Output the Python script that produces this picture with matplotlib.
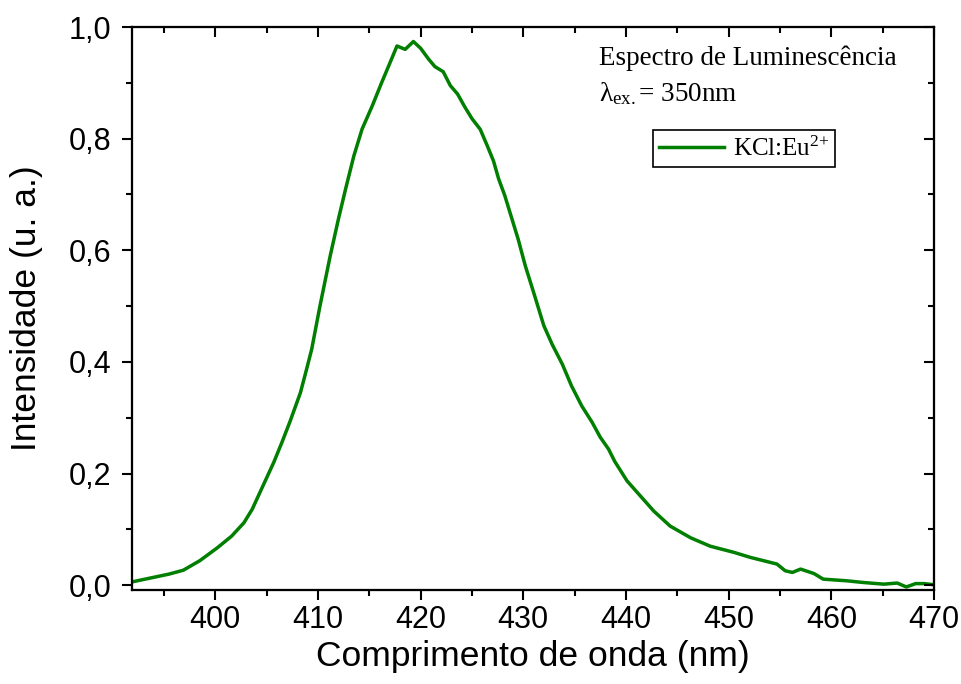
import numpy as np
import matplotlib
matplotlib.use('Agg')
import matplotlib.pyplot as plt
from matplotlib.ticker import MultipleLocator, FuncFormatter

plt.rcParams['font.family'] = ['Liberation Sans', 'DejaVu Sans']
plt.rcParams['font.size'] = 22
plt.rcParams['axes.linewidth'] = 1.5
plt.rcParams['mathtext.fontset'] = 'custom'
plt.rcParams['mathtext.rm'] = 'Liberation Serif'
plt.rcParams['mathtext.it'] = 'Liberation Serif:italic'

wavelength = [391.9, 393.7, 395.5, 396.9, 398.5, 400.2, 401.6, 402.8, 403.6, 404.5,
              405.7, 406.5, 407.3, 408.3, 408.9, 409.4, 410.2, 411.2, 412.0, 412.7,
              413.5, 414.3, 415.3, 416.2, 417.0, 417.7, 418.5, 419.3, 420.0, 420.8,
              421.4, 422.2, 422.9, 423.6, 424.3, 425.0, 425.8, 426.5, 427.1, 427.6,
              428.2, 428.9, 429.5, 430.2, 431.0, 432.0, 432.8, 433.8, 434.7, 435.7,
              436.7, 437.5, 438.3, 438.9, 440.1, 441.4, 442.7, 444.3, 446.3, 448.2,
              450.5, 452.1, 453.4, 454.7, 455.5, 456.2, 457.0, 458.3, 459.2, 461.5,
              463.1, 465.1, 466.4, 467.3, 468.2, 469.0, 470.0]
intensity = [0.006, 0.013, 0.020, 0.027, 0.044, 0.067, 0.088, 0.112, 0.136, 0.172,
             0.220, 0.256, 0.294, 0.345, 0.387, 0.423, 0.500, 0.590, 0.656, 0.710,
             0.769, 0.817, 0.859, 0.900, 0.935, 0.966, 0.960, 0.974, 0.962, 0.942,
             0.929, 0.920, 0.895, 0.880, 0.857, 0.836, 0.817, 0.787, 0.760, 0.728,
             0.698, 0.656, 0.620, 0.572, 0.525, 0.465, 0.432, 0.396, 0.357, 0.321,
             0.292, 0.265, 0.244, 0.222, 0.187, 0.160, 0.133, 0.106, 0.085, 0.070,
             0.059, 0.050, 0.044, 0.038, 0.026, 0.023, 0.029, 0.021, 0.011, 0.008,
             0.005, 0.002, 0.004, -0.003, 0.003, 0.003, 0.001]

xlim = (391.9, 470)
ylim = (-0.0085, 1.0)

fig = plt.figure(figsize=(9.62, 6.84), dpi=100)
ax = fig.add_axes([0.1372, 0.1374, 0.8338, 0.8231])

line, = ax.plot(wavelength, intensity, color='#007f00', linewidth=2.5,
                label='KCl:Eu$^{2{+}}$')

ax.set_xlim(*xlim)
ax.set_ylim(*ylim)
ax.xaxis.set_major_locator(MultipleLocator(10))
ax.xaxis.set_minor_locator(MultipleLocator(5))
ax.yaxis.set_major_locator(MultipleLocator(0.2))
ax.yaxis.set_minor_locator(MultipleLocator(0.1))
ax.yaxis.set_major_formatter(FuncFormatter(lambda v, p: f'{v:.1f}'.replace('.', ',')))
ax.tick_params(which='major', direction='out', length=7, width=1.5)
ax.tick_params(which='minor', direction='out', length=4, width=1.5)
ax.tick_params(axis='y', which='major', pad=8)

# eixos de cima e da direita com ticks para dentro
axt = ax.twiny()
axt.set_xlim(*xlim)
axt.xaxis.set_major_locator(MultipleLocator(10))
axt.xaxis.set_minor_locator(MultipleLocator(5))
axt.tick_params(which='both', direction='in', labeltop=False, width=1.5)
axt.tick_params(which='major', length=7)
axt.tick_params(which='minor', length=4)
axr = ax.twinx()
axr.set_ylim(*ylim)
axr.yaxis.set_major_locator(MultipleLocator(0.2))
axr.yaxis.set_minor_locator(MultipleLocator(0.1))
axr.tick_params(which='both', direction='in', labelright=False, width=1.5)
axr.tick_params(which='major', length=7)
axr.tick_params(which='minor', length=4)

ax.set_xlabel('Comprimento de onda (nm)', fontsize=25.5, labelpad=4)
ax.set_ylabel('Intensidade (u. a.)', fontsize=25.5, labelpad=18)

ax.text(0.582, 0.9325, 'Espectro de Luminescência', transform=ax.transAxes,
        family='Liberation Serif', fontsize=19.5, va='baseline')
ax.text(0.582, 0.8686, 'λ$_{\\mathrm{ex.}}$= 350nm', transform=ax.transAxes,
        family='Liberation Serif', fontsize=19.5, va='baseline')

leg = ax.legend(handles=[line], loc='upper left', bbox_to_anchor=(0.649, 0.817),
                prop={'family': 'Liberation Serif', 'size': 18},
                frameon=True, fancybox=False, edgecolor='black', framealpha=1,
                handlelength=2.6, handletextpad=0.35, borderpad=0.25, borderaxespad=0)
leg.get_frame().set_linewidth(1.2)

plt.savefig('out.png', dpi=100, facecolor='white')
